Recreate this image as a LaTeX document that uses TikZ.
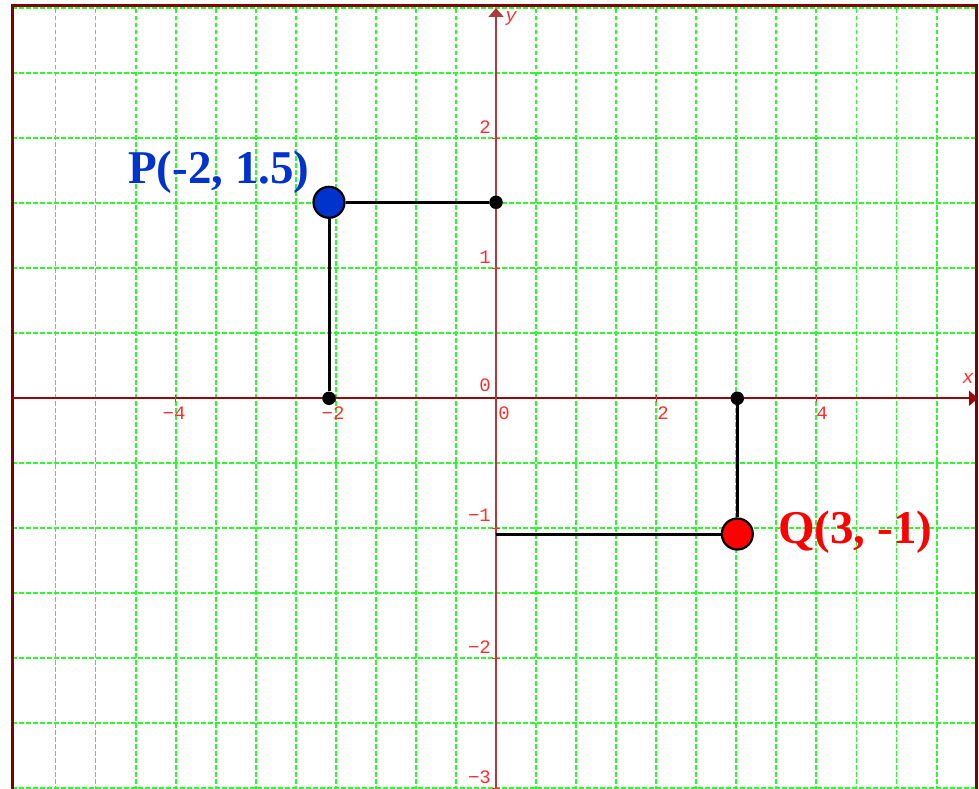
\documentclass[tikz,border=0pt]{standalone}
\usepackage{fontspec}
\setmainfont{Liberation Serif}
\newfontfamily\tickfont{Liberation Mono}
\usetikzlibrary{arrows.meta}
\definecolor{gridgreen}{RGB}{45,250,45}
\definecolor{axisred}{RGB}{150,10,10}
\definecolor{yaxisred}{RGB}{170,60,60}
\definecolor{ticklab}{RGB}{255,45,45}
\definecolor{framered}{RGB}{128,0,0}
\definecolor{pblue}{RGB}{0,51,204}
\definecolor{qred}{RGB}{255,0,0}
\tikzset{
  gridline/.style={gridgreen,line width=1.9pt,dash pattern=on 4.5pt off 2.5pt},
  frameline/.style={framered,line width=3pt},
  axisline/.style={line width=2pt,-{Triangle[length=9pt,width=15pt]}},
  tickmark/.style={ticklab,line width=1.2pt},
  ticklabel/.style={ticklab,inner sep=0pt,font=\tickfont\fontsize{19}{19}\selectfont},
  axislabel/.style={ticklab,inner sep=0pt,font=\tickfont\itshape\fontsize{19}{19}\selectfont},
  seg/.style={black,line width=3pt},
  bigdot/.style={circle,draw=black,line width=2.2pt,minimum size=31pt,inner sep=0pt},
  smalldot/.style={circle,fill=black,minimum size=13.5pt,inner sep=0pt},
  ptlabel/.style={inner sep=0pt,anchor=base west,font=\bfseries\fontsize{47}{47}\selectfont}
}
\begin{document}
\begin{tikzpicture}[x=1pt,y=-1pt]
\useasboundingbox (0,0) rectangle (979,789);
% grid
\foreach \k in {-11,...,-1,1,2,...,11}
  \draw[gridline] ({496+40.05*\k},9) -- ({496+40.05*\k},789);
\foreach \k in {-6,...,-1,1,2,...,6}
  \draw[gridline] (12,{398.3+65*\k}) -- (976,{398.3+65*\k});
% frame
\draw[frameline] (12,789) -- (12,6) -- (976,6) -- (976,789);
% axes
\coordinate (xs) at (12,398.3);
\coordinate (xe) at (978,398.3);
\coordinate (ys) at (496,789);
\coordinate (ye) at (496,8);
\draw[axisline,axisred] (xs) -- (xe);
\draw[axisline,yaxisred,line width=1.8pt] (ys) -- (ye);
\node[axislabel] (xl) at (968,378) {x};
\node[axislabel] (yl) at (511,18) {y};
% ticks
\foreach \u in {-4,-2,2,4}
  \draw[tickmark] ({496+80.1*\u},395) -- ({496+80.1*\u},402);
\foreach \v in {-3,-2,-1,1,2}
  \draw[tickmark] (492,{398.3-130*\v}) -- (500,{398.3-130*\v});
% tick labels
\node[ticklabel] (lxm4) at (174,413) {−4};
\node[ticklabel] (lxm2) at (333,413) {−2};
\node[ticklabel] (lx0) at (504,413) {0};
\node[ticklabel] (lx2) at (663,413) {2};
\node[ticklabel] (lx4) at (822,413) {4};
\node[ticklabel,anchor=east] (ly2) at (491,127) {2};
\node[ticklabel,anchor=east] (ly1) at (491,257) {1};
\node[ticklabel,anchor=east] (ly0) at (491,385) {0};
\node[ticklabel,anchor=east] (lym1) at (491,515) {−1};
\node[ticklabel,anchor=east] (lym2) at (491,647) {−2};
\node[ticklabel,anchor=east] (lym3) at (491,777) {−3};
% points
\node[bigdot,fill=pblue] (P) at (329,202.3) {};
\node[bigdot,fill=qred] (Q) at (737.3,534) {};
\node[smalldot] (Py) at (496,202.3) {};
\node[smalldot] (Px) at (329,398.3) {};
\node[smalldot] (Qx) at (737.3,398.3) {};
\coordinate (Qy) at (496,534);
% segments
\draw[seg] (P) -- (Py);
\draw[seg] (P) -- (Px);
\draw[seg] (Q) -- (Qx);
\draw[seg] (Q) -- (Qy);
% labels
\node[ptlabel,pblue] (Plab) at (128,183) {P(-2, 1.5)};
\node[ptlabel,qred] (Qlab) at (778,543) {Q(3, -1)};
\end{tikzpicture}
\end{document}
